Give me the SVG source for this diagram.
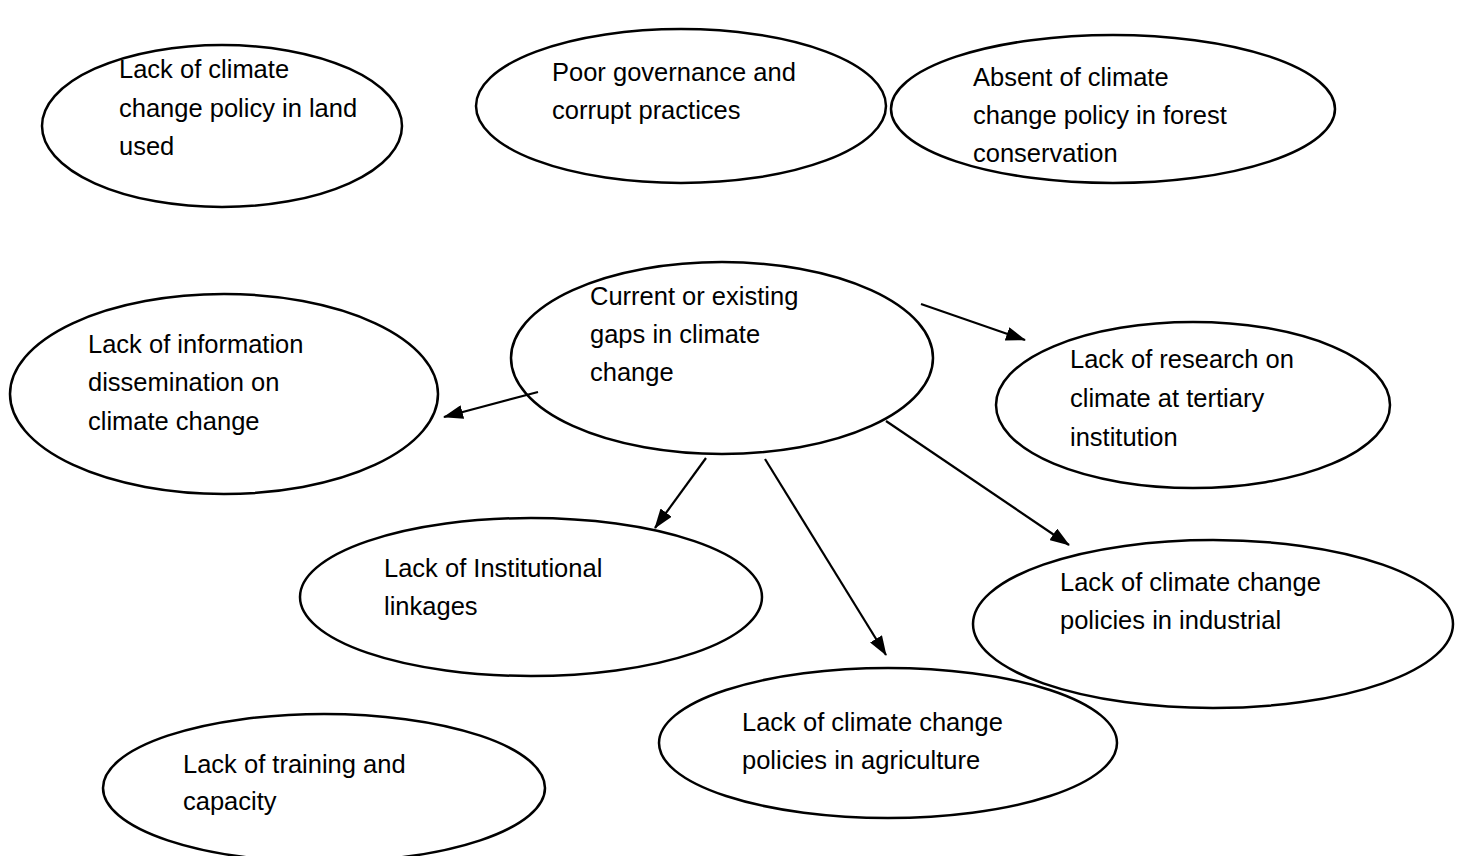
<svg xmlns="http://www.w3.org/2000/svg" width="1461" height="856" viewBox="0 0 1461 856">
<defs>
<marker id="arr" markerWidth="20" markerHeight="14" refX="19" refY="7" orient="auto" markerUnits="userSpaceOnUse" viewBox="0 0 20 14">
<path d="M0,0 L20,7 L0,14 Z" fill="#000"/>
</marker>
<style>
.n ellipse{fill:#fff;stroke:#000;stroke-width:2.5}
.n text{font-family:"Liberation Sans",Arial,sans-serif;font-size:25.5px;fill:#000}
.c line{stroke:#000;stroke-width:2.2;marker-end:url(#arr)}
</style>
</defs>
<rect width="1461" height="856" fill="#fff"/>
<g id="n1" class="n"><ellipse cx="222" cy="126" rx="180" ry="81"/>
<text x="119" y="78">Lack of climate</text><text x="119" y="117">change policy in land</text><text x="119" y="155">used</text></g>
<g id="n2" class="n"><ellipse cx="681" cy="106" rx="205" ry="77"/>
<text x="552" y="81">Poor governance and</text><text x="552" y="119">corrupt practices</text></g>
<g id="n3" class="n"><ellipse cx="1113" cy="109" rx="222" ry="74"/>
<text x="973" y="86">Absent of climate</text><text x="973" y="124">change policy in forest</text><text x="973" y="162">conservation</text></g>
<g id="n4" class="n"><ellipse cx="722" cy="358" rx="211" ry="96"/>
<text x="590" y="305">Current or existing</text><text x="590" y="343">gaps in climate</text><text x="590" y="381">change</text></g>
<g id="n5" class="n"><ellipse cx="224" cy="394" rx="214" ry="100"/>
<text x="88" y="353">Lack of information</text><text x="88" y="391">dissemination on</text><text x="88" y="430">climate change</text></g>
<g id="n6" class="n"><ellipse cx="1193" cy="405" rx="197" ry="83"/>
<text x="1070" y="368">Lack of research on</text><text x="1070" y="407">climate at tertiary</text><text x="1070" y="446">institution</text></g>
<g id="n7" class="n"><ellipse cx="531" cy="597" rx="231" ry="79"/>
<text x="384" y="577">Lack of Institutional</text><text x="384" y="615">linkages</text></g>
<g id="n9" class="n"><ellipse cx="888" cy="743" rx="229" ry="75"/>
<text x="742" y="731">Lack of climate change</text><text x="742" y="769">policies in agriculture</text></g>
<g id="n8" class="n"><ellipse cx="1213" cy="624" rx="240" ry="84"/>
<text x="1060" y="591">Lack of climate change</text><text x="1060" y="629">policies in industrial</text></g>
<g id="n10" class="n"><ellipse cx="324" cy="788" rx="221" ry="74"/>
<text x="183" y="773">Lack of training and</text><text x="183" y="810">capacity</text></g>
<g id="connectors" class="c">
<line x1="538" y1="392" x2="444" y2="417"/>
<line x1="921" y1="304" x2="1025" y2="340"/>
<line x1="706" y1="458" x2="655" y2="528"/>
<line x1="765" y1="459" x2="886" y2="655"/>
<line x1="886" y1="421" x2="1069" y2="545"/>
</g>
</svg>
